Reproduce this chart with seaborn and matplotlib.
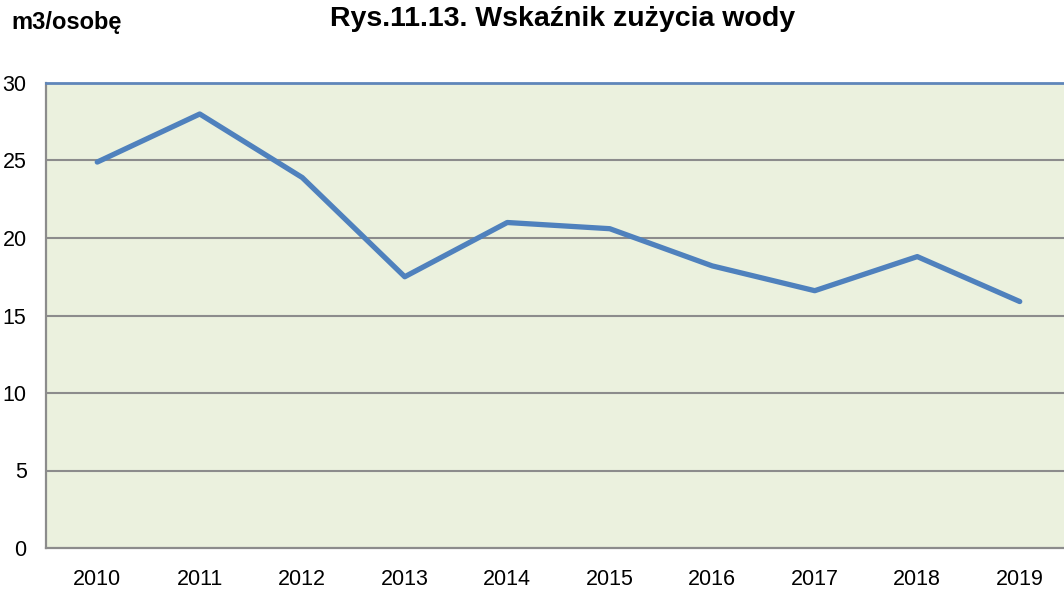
import matplotlib

matplotlib.use("Agg")
import matplotlib.pyplot as plt
import pandas as pd
import seaborn as sns

# --- data ---
years = ["2010", "2011", "2012", "2013", "2014", "2015", "2016", "2017", "2018", "2019"]
usage = [24.9, 28.0, 23.9, 17.5, 21.0, 20.6, 18.2, 16.6, 18.8, 15.9]
y_ticks = [0, 5, 10, 15, 20, 25, 30]

LINE = "#4F81BD"
PLOT_BG = "#EBF1DE"
GRID = "#8C8C8C"

sns.set_theme(style="white")
plt.rcParams["font.family"] = ["Liberation Sans", "DejaVu Sans"]
plt.rcParams["text.color"] = "#000000"

df = pd.DataFrame({"year": years, "usage": usage})
df["pos"] = range(len(years))

W, H = 1064, 592
fig = plt.figure(figsize=(W / 100, H / 100), dpi=100)
# plot area: left 46px, top 83px, bottom 548px, right edge just past the image
ax = fig.add_axes([46 / W, (H - 548) / H, (1071 - 46) / W, (548 - 83) / H])
ax.set_facecolor(PLOT_BG)

sns.lineplot(data=df, x="pos", y="usage", color=LINE, linewidth=3.8, ax=ax)

ax.set_xlim(-0.5, len(years) - 0.5)
ax.set_ylim(0, 30)
ax.set_yticks(y_ticks)
ax.set_yticklabels([str(t) for t in y_ticks])
ax.set_xticks(df["pos"])
ax.set_xticklabels(years)
ax.tick_params(axis="both", length=0, labelsize=15.5, colors="#000000")
ax.tick_params(axis="y", pad=14)
ax.tick_params(axis="x", pad=15)
ax.set_xlabel("")
ax.set_ylabel("")

for t in y_ticks[1:-1]:
    ax.axhline(t, color=GRID, linewidth=1.5, zorder=0.5)

for side in ["left", "bottom"]:
    ax.spines[side].set_color(GRID)
    ax.spines[side].set_linewidth(1.6)
ax.spines["top"].set_color("#5F86BA")
ax.spines["top"].set_linewidth(2)
ax.spines["right"].set_visible(False)

fig.text(563 / W, 1 - 19 / H, "Rys.11.13. Wskaźnik zużycia wody",
         ha="center", va="center", fontsize=20.5, fontweight="bold", color="#000000")
fig.text(11 / W, 1 - 22 / H, "m3/osobę", ha="left", va="center",
         fontsize=17, fontweight="bold", color="#000000")

fig.savefig("out.png", dpi=100, facecolor="white")
